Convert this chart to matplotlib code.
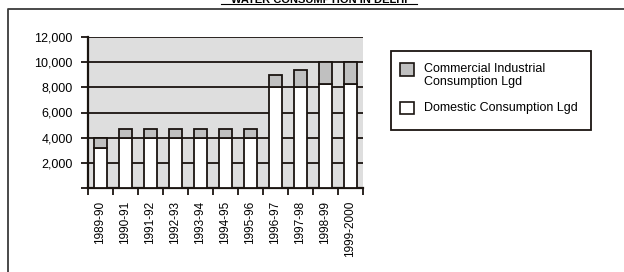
import matplotlib.pyplot as plt
from matplotlib.lines import Line2D
from matplotlib.patches import Rectangle

plt.rcParams['font.family'] = ['Liberation Sans', 'DejaVu Sans']

years = ['1989-90', '1990-91', '1991-92', '1992-93', '1993-94', '1994-95',
         '1995-96', '1996-97', '1997-98', '1998-99', '1999-2000']
domestic = [3200, 4000, 4000, 4000, 4000, 4000, 4000, 8000, 8000, 8300, 8300]
commercial = [800, 700, 700, 700, 700, 700, 700, 1000, 1400, 1700, 1700]
yticks = [0, 2000, 4000, 6000, 8000, 10000, 12000]
ytick_labels = ['', '2,000', '4,000', '6,000', '8,000', '10,000', '12,000']

W, H = 624, 272
fig = plt.figure(figsize=(W / 100, H / 100), dpi=100)
ax = fig.add_axes([88 / W, 1 - 188 / H, 275 / W, 151 / H])
ax.set_facecolor('#dedede')
dark = '#1a1410'

x = list(range(len(years)))
ax.bar(x, domestic, width=0.52, color='white', edgecolor=dark,
       linewidth=1.3, zorder=3)
ax.bar(x, commercial, width=0.52, bottom=domestic, color='#c0c0c0',
       edgecolor=dark, linewidth=1.3, zorder=3)

ax.set_xlim(-0.5, len(years) - 0.5)
ax.set_ylim(0, 12000)
ax.set_yticks(yticks)
ax.set_yticklabels(ytick_labels, fontsize=9)
ax.yaxis.grid(True, color=dark, linewidth=1.3, zorder=1)
ax.set_axisbelow(True)

ax.set_xticks([i - 0.5 for i in range(len(years) + 1)])
ax.set_xticklabels([])
ax.set_xticks(x, minor=True)
ax.set_xticklabels(years, minor=True, rotation=90, fontsize=8.5)
ax.tick_params(axis='x', which='major', length=5, width=1.3, color=dark)
ax.tick_params(axis='x', which='minor', length=0, pad=9)
ax.tick_params(axis='y', length=5, width=1.3, color=dark, pad=6)

for s in ['top', 'right']:
    ax.spines[s].set_visible(False)
for s in ['left', 'bottom']:
    ax.spines[s].set_linewidth(1.6)
    ax.spines[s].set_color(dark)


def px_rect(x0, y0, x1, y1, **kw):
    # rectangle given in pixel coords from the top-left corner
    fig.add_artist(Rectangle((x0 / W, 1 - y1 / H), (x1 - x0) / W, (y1 - y0) / H,
                             transform=fig.transFigure, **kw))


# legend drawn by hand so the swatches sit on the first text line
px_rect(391, 51, 591, 130, facecolor='white', edgecolor=dark, linewidth=1.3)
px_rect(400, 63, 414, 76, facecolor='#c0c0c0', edgecolor=dark, linewidth=1.2)
px_rect(400, 102, 414, 114, facecolor='white', edgecolor=dark, linewidth=1.2)
fig.text(424 / W, 1 - 63 / H, 'Commercial Industrial\nConsumption Lgd',
         ha='left', va='top', fontsize=9, linespacing=1.1)
fig.text(424 / W, 1 - 108 / H, 'Domestic Consumption Lgd',
         ha='left', va='center', fontsize=9)

# outer frame (left and top edges visible)
fig.add_artist(Line2D([8 / W, 8 / W, 1.0], [0.0, 1 - 9 / H, 1 - 9 / H],
                      transform=fig.transFigure, color='#3a3a3a', linewidth=1.3))

# clipped, underlined title
fig.text(319 / W, 1 - 3 / H, 'WATER CONSUMPTION IN DELHI', ha='center',
         va='baseline', fontsize=8, fontweight='bold')
fig.add_artist(Line2D([221 / W, 417 / W], [1 - 4 / H, 1 - 4 / H],
                      transform=fig.transFigure, color='black', linewidth=0.8))

fig.savefig('out.png', dpi=100)
